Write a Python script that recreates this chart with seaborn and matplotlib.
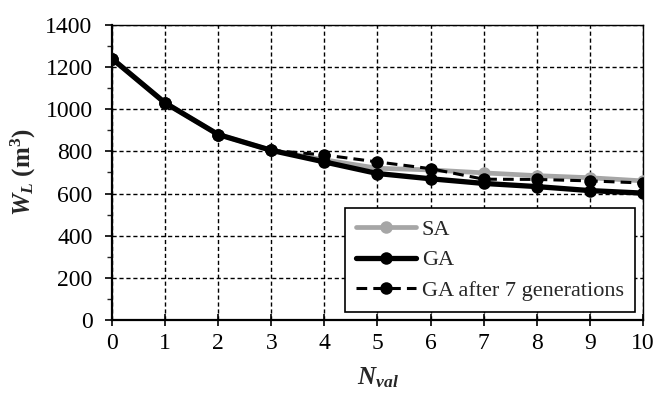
import matplotlib
matplotlib.use("Agg")
import matplotlib.pyplot as plt
import seaborn as sns
import pandas as pd
from matplotlib.ticker import MultipleLocator

n_val = [0, 1, 2, 3, 4, 5, 6, 7, 8, 9, 10]
sa = [1240, 1030, 880, 805, 760, 720, 712, 698, 685, 675, 660]
ga = [1240, 1030, 880, 805, 750, 695, 670, 648, 633, 614, 602]
ga7 = [1240, 1030, 880, 805, 783, 750, 718, 668, 667, 660, 650]
labels = ["SA", "GA", "GA after 7 generations"]

sns.set_theme(style="white")
plt.rcParams['font.family'] = ['Liberation Serif', 'DejaVu Serif']
plt.rcParams['mathtext.fontset'] = 'custom'
plt.rcParams['mathtext.rm'] = 'Liberation Serif'
plt.rcParams['mathtext.it'] = 'Liberation Serif:italic'
plt.rcParams['mathtext.bf'] = 'Liberation Serif:bold'
plt.rcParams['mathtext.bfit'] = 'Liberation Serif:bold:italic'

fig = plt.figure(figsize=(6.57, 3.96), dpi=100)
ax = fig.add_axes([0.1705, 0.192, 0.808, 0.745])

df = pd.DataFrame({"x": n_val * 3, "y": sa + ga + ga7,
                   "s": [labels[0]] * 11 + [labels[1]] * 11 + [labels[2]] * 11})

styles = {
    labels[0]: dict(color="#a6a6a6", lw=3.4, ls="-", ms=9),
    labels[1]: dict(color="black", lw=3.8, ls="-", ms=9),
    labels[2]: dict(color="black", lw=2.2, ls=(0, (3.5, 2)), ms=9),
}
for i, lab in enumerate(labels):
    st = styles[lab]
    sns.lineplot(data=df[df.s == lab], x="x", y="y", ax=ax, color=st["color"],
                 linewidth=st["lw"], linestyle=st["ls"], marker="o",
                 markersize=st["ms"], markeredgewidth=0, label=lab, zorder=3 + i)

ax.set_xlim(0, 10)
ax.set_ylim(0, 1400)
ax.xaxis.set_major_locator(MultipleLocator(1))
ax.yaxis.set_major_locator(MultipleLocator(200))
ax.yaxis.set_minor_locator(MultipleLocator(100))
ax.grid(True, which="major", color="black", linestyle=(0, (3, 2)), linewidth=1.0)
ax.set_axisbelow(True)

for s in ["left", "bottom"]:
    ax.spines[s].set_linewidth(1.6)
    ax.spines[s].set_color("black")
for s in ["top", "right"]:
    ax.spines[s].set_linewidth(1.0)
    ax.spines[s].set_color("black")

ax.tick_params(axis="y", which="major", direction="out", length=5, width=1.2,
               labelsize=17, colors="black", left=True, pad=9)
ax.tick_params(axis="y", which="minor", direction="out", length=3.5, width=1.0,
               left=True)
ax.tick_params(axis="x", which="major", direction="inout", length=9, width=1.2,
               labelsize=17, colors="black", bottom=True, pad=5)

ax.set_xlabel(r"$\mathbfit{N}_{\mathbfit{val}}$", fontsize=18, labelpad=8)
ax.set_ylabel(r"$\mathbfit{W}_{\mathbfit{L}}$ (m$^{\mathbf{3}}$)", fontsize=18,
              fontweight="bold", labelpad=5)

leg = ax.legend(loc="lower right", fontsize=16, frameon=True, fancybox=False,
                edgecolor="black", framealpha=1, borderpad=0.5,
                handlelength=2.7, handletextpad=0.25, labelspacing=0.45,
                borderaxespad=0, bbox_to_anchor=(0.985, 0.027))
leg.get_frame().set_linewidth(1.2)
leg.set_zorder(10)

fig.savefig("out.png", dpi=100)
